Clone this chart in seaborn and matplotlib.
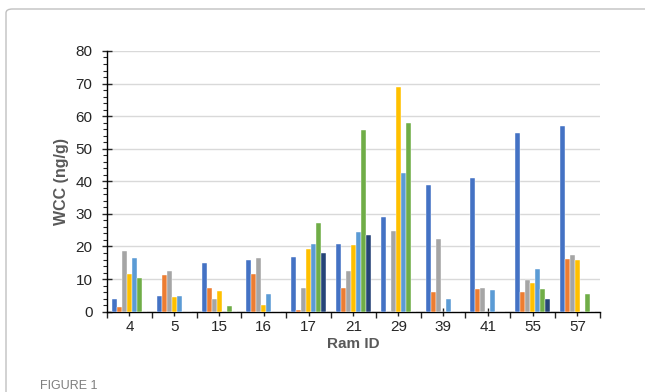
import numpy as np
import pandas as pd
import seaborn as sns
import matplotlib.pyplot as plt
from matplotlib.patches import FancyBboxPatch
from matplotlib.ticker import MultipleLocator, FixedLocator

# ================== data ==================
ram_ids = ["4", "5", "15", "16", "17", "21", "29", "39", "41", "55", "57"]
series_names = ["S1", "S2", "S3", "S4", "S5", "S6", "S7"]

s1 = [4.0, 4.9, 14.9, 15.9, 16.9, 20.9, 29.0, 39.0, 41.0, 54.9, 57.0]
s2 = [1.3, 11.3, 7.4, 11.5, 0.4, 7.3, 0.0, 6.1, 7.0, 6.1, 16.3]
s3 = [18.5, 12.4, 3.9, 16.6, 7.2, 12.4, 24.9, 22.4, 7.4, 9.8, 17.3]
s4 = [11.5, 4.4, 6.2, 2.1, 19.1, 20.6, 68.8, 0.0, 0.0, 8.7, 16.0]
s5 = [16.4, 4.8, 0.0, 5.4, 20.8, 24.3, 42.6, 3.8, 6.5, 13.2, 0.0]
s6 = [10.4, 0.0, 1.6, 0.0, 27.2, 55.7, 57.8, 0.0, 0.0, 7.1, 5.3]
s7 = [0.0, 0.0, 0.0, 0.0, 17.9, 23.5, 0.0, 0.0, 0.0, 3.8, 0.0]

colors = ["#4472C4", "#ED7D31", "#A5A5A5", "#FFC000", "#5B9BD5", "#70AD47", "#264478"]

rows = []
for name, vals in zip(series_names, [s1, s2, s3, s4, s5, s6, s7]):
    for rid, v in zip(ram_ids, vals):
        rows.append({"Ram ID": rid, "series": name, "WCC": v})
df = pd.DataFrame(rows)

# ================== plot ==================
sns.set_style("white")
plt.rcParams["font.family"] = ["Liberation Sans", "DejaVu Sans"]

fig = plt.figure(figsize=(6.45, 3.92), dpi=100)
ax = fig.add_axes([0.166, 0.205, 0.764, 0.665])

sns.barplot(
    data=df, x="Ram ID", y="WCC", hue="series",
    order=ram_ids, hue_order=series_names, palette=colors,
    saturation=1, width=0.78, errorbar=None, ax=ax, legend=False,
    edgecolor="white", linewidth=0.3, zorder=3
)

ax.set_ylim(0, 80)
ax.set_xlim(-0.5, len(ram_ids) - 0.5)
ax.yaxis.set_major_locator(MultipleLocator(10))
ax.yaxis.set_minor_locator(MultipleLocator(2))
ax.xaxis.set_minor_locator(FixedLocator(np.arange(-0.5, len(ram_ids), 1.0)))
ax.grid(axis="y", color="#d9d9d9", linewidth=1.0, zorder=0)
ax.set_axisbelow(True)

for side in ["top", "right"]:
    ax.spines[side].set_visible(False)
for side in ["left", "bottom"]:
    ax.spines[side].set_color("black")
    ax.spines[side].set_linewidth(1.0)

ax.tick_params(axis="y", which="major", direction="inout", length=7, width=1,
               labelsize=11, labelcolor="#262626", pad=7, left=True)
ax.tick_params(axis="y", which="minor", direction="out", length=3, width=0.8, left=True)
ax.tick_params(axis="x", which="major", direction="inout", length=6, width=1,
               labelsize=11, labelcolor="#262626", pad=3, bottom=True)
ax.tick_params(axis="x", which="minor", direction="out", length=4, width=1, bottom=True)

ax.set_xlabel("Ram ID", fontsize=11, fontweight="bold", color="#595959", labelpad=2)
ax.set_ylabel("WCC (ng/g)", fontsize=11.5, fontweight="bold", color="#595959", labelpad=5)

# panel frame + caption
frame = FancyBboxPatch((6 / 645, -0.2), 1.2, 1.2 - 9 / 392,
                       boxstyle="round,pad=0,rounding_size=0.01",
                       transform=fig.transFigure, facecolor="none",
                       edgecolor="#c0c0c0", linewidth=1.0)
fig.add_artist(frame)
fig.text(40 / 645, 1 - 380 / 392, "FIGURE 1", fontsize=9, color="#7f7f7f",
         va="top", ha="left")

fig.savefig("out.png", dpi=100)
